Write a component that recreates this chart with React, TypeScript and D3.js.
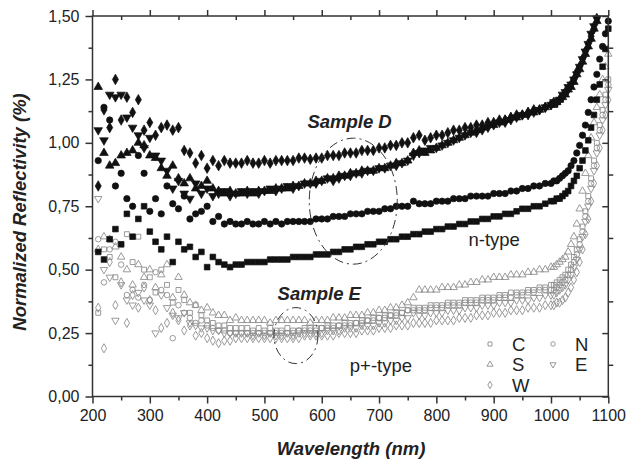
import React, { useRef, useEffect } from 'react';
import * as d3 from 'd3';

// wavelength grid (nm) shared by all series
const wavelengths = [
  210, 220, 230, 240, 250, 260, 270, 280, 290, 300,
  310, 320, 330, 340, 350, 360, 370, 380, 390, 400,
  410, 420, 430, 440, 450, 460, 470, 480, 490, 500,
  510, 520, 530, 540, 550, 560, 570, 580, 590, 600,
  610, 620, 630, 640, 650, 660, 670, 680, 690, 700,
  710, 720, 730, 740, 750, 760, 770, 780, 790, 800,
  810, 820, 830, 840, 850, 860, 870, 880, 890, 900,
  910, 920, 930, 940, 950, 960, 970, 980, 990, 1000,
  1005, 1010, 1015, 1020, 1025, 1030, 1035, 1040, 1045, 1050,
  1055, 1060, 1065, 1070, 1075, 1080, 1085, 1090, 1095, 1100,
];

// Sample D (n-type), filled markers
const nW = [
  0.83, 1.13, 1.06, 1.25, 1.09, 1.18, 1.12, 1.17, 1.05, 1.08,
  1.03, 1.06, 1.07, 1.05, 1.06, 0.97, 0.96, 0.92, 0.95, 0.90,
  0.93, 0.91, 0.93, 0.92, 0.92, 0.92, 0.93, 0.92, 0.92, 0.93,
  0.92, 0.93, 0.93, 0.93, 0.93, 0.94, 0.94, 0.935, 0.94, 0.94,
  0.95, 0.95, 0.95, 0.96, 0.96, 0.96, 0.97, 0.97, 0.97, 0.98,
  0.98, 0.99, 0.99, 1.00, 1.00, 1.02, 1.03, 1.01, 1.02, 1.03,
  1.03, 1.04, 1.05, 1.05, 1.06, 1.06, 1.07, 1.07, 1.08, 1.08,
  1.09, 1.09, 1.10, 1.11, 1.11, 1.12, 1.13, 1.13, 1.14, 1.15,
  1.16, 1.16, 1.17, 1.18, 1.20, 1.21, 1.23, 1.25, 1.28, 1.30,
  1.33, 1.36, 1.39, 1.42, 1.45, 1.49, null, null, null, null,
];
const nS = [
  1.22, 0.96, 0.91, 0.92, 0.95, 0.96, 0.97, 1.00, 0.99, 0.95,
  0.94, 0.90, 0.87, 0.91, 0.86, 0.84, 0.86, 0.82, 0.83, 0.85,
  0.82, 0.81, 0.80, 0.81, 0.80, 0.80, 0.81, 0.80, 0.81, 0.81,
  0.81, 0.82, 0.82, 0.82, 0.83, 0.83, 0.84, 0.84, 0.85, 0.85,
  0.86, 0.86, 0.87, 0.87, 0.88, 0.88, 0.89, 0.89, 0.89, 0.90,
  0.90, 0.91, 0.92, 0.92, 0.93, 0.96, 0.97, 0.96, 0.97, 0.98,
  0.99, 1.00, 1.01, 1.02, 1.03, 1.04, 1.05, 1.06, 1.07, 1.07,
  1.08, 1.09, 1.10, 1.10, 1.11, 1.12, 1.12, 1.13, 1.14, 1.15,
  1.15, 1.16, 1.17, 1.18, 1.19, 1.21, 1.22, 1.24, 1.27, 1.29,
  1.32, 1.35, 1.38, 1.41, 1.45, 1.48, null, null, null, null,
];
const nE = [
  1.05, 1.01, 1.19, 1.18, 1.19, 1.10, 1.06, 1.03, 0.98, 1.02,
  0.95, 0.93, 0.89, 0.82, 0.85, 0.80, 0.78, 0.84, 0.80, 0.82,
  0.79, 0.80, 0.81, 0.79, 0.80, 0.81, 0.80, 0.81, 0.80, 0.81,
  0.82, 0.81, 0.82, 0.83, 0.82, 0.83, 0.84, 0.84, 0.84, 0.85,
  0.86, 0.85, 0.86, 0.87, 0.87, 0.88, 0.88, 0.89, 0.89, 0.90,
  0.90, 0.91, 0.91, 0.92, 0.93, 0.95, 0.96, 0.97, 0.98, 0.98,
  0.99, 1.00, 1.01, 1.02, 1.03, 1.04, 1.04, 1.05, 1.06, 1.07,
  1.08, 1.08, 1.09, 1.10, 1.11, 1.11, 1.12, 1.13, 1.14, 1.15,
  1.16, 1.16, 1.17, 1.19, 1.20, 1.22, 1.23, 1.25, 1.27, 1.30,
  1.33, 1.36, 1.39, 1.43, 1.46, 1.49, null, null, null, null,
];
const nN = [
  0.93, 1.14, 1.09, 0.83, 0.88, 0.78, 0.75, 0.95, 0.88, 0.73,
  0.78, 0.72, 0.83, 0.76, 0.74, 0.79, 0.70, 0.72, 0.73, 0.75,
  0.69, 0.71, 0.68, 0.69, 0.68, 0.68, 0.69, 0.68, 0.68, 0.69,
  0.68, 0.69, 0.68, 0.69, 0.69, 0.69, 0.69, 0.69, 0.70, 0.70,
  0.70, 0.71, 0.71, 0.71, 0.72, 0.72, 0.72, 0.73, 0.73, 0.73,
  0.74, 0.74, 0.75, 0.75, 0.75, 0.77, 0.76, 0.76, 0.76, 0.77,
  0.77, 0.77, 0.78, 0.78, 0.78, 0.79, 0.79, 0.79, 0.79, 0.80,
  0.80, 0.80, 0.81, 0.81, 0.82, 0.82, 0.83, 0.83, 0.84, 0.84,
  0.85, 0.85, 0.86, 0.87, 0.88, 0.89, 0.91, 0.93, 0.96, 0.99,
  1.03, 1.07, 1.12, 1.17, 1.22, 1.27, 1.33, 1.38, 1.43, 1.48,
];
const nC = [
  0.57, 0.54, 0.62, 0.66, 0.60, 0.72, 0.63, 0.70, 0.75, 0.65,
  0.61, 0.58, 0.63, 0.53, 0.61, 0.58, 0.59, 0.55, 0.57, 0.51,
  0.55, 0.53, 0.52, 0.51, 0.52, 0.52, 0.53, 0.53, 0.53, 0.53,
  0.54, 0.54, 0.54, 0.54, 0.55, 0.55, 0.55, 0.55, 0.56, 0.56,
  0.56, 0.57, 0.57, 0.58, 0.58, 0.59, 0.59, 0.60, 0.60, 0.61,
  0.61, 0.62, 0.62, 0.63, 0.63, 0.64, 0.64, 0.65, 0.65, 0.66,
  0.66, 0.67, 0.67, 0.68, 0.68, 0.69, 0.69, 0.70, 0.70, 0.71,
  0.71, 0.72, 0.72, 0.73, 0.74, 0.74, 0.75, 0.75, 0.76, 0.77,
  0.77, 0.78, 0.78, 0.79, 0.80, 0.81, 0.83, 0.85, 0.87, 0.90,
  0.93, 0.97, 1.01, 1.06, 1.11, 1.17, 1.23, 1.30, 1.37, 1.45,
];

// Sample E (p+-type), open markers
const pS = [
  0.58, 0.63, 0.62, 0.59, 0.55, 0.50, 0.44, 0.52, 0.47, 0.50,
  0.43, 0.48, 0.52, 0.39, 0.47, 0.40, 0.37, 0.36, 0.34, 0.35,
  0.33, 0.32, 0.32, 0.30, 0.31, 0.30, 0.30, 0.30, 0.30, 0.30,
  0.29, 0.30, 0.30, 0.30, 0.30, 0.30, 0.30, 0.29, 0.30, 0.30,
  0.30, 0.31, 0.31, 0.31, 0.32, 0.32, 0.32, 0.33, 0.33, 0.34,
  0.34, 0.35, 0.35, 0.36, 0.37, 0.39, 0.42, 0.42, 0.42, 0.42,
  0.43, 0.43, 0.43, 0.44, 0.44, 0.45, 0.45, 0.46, 0.46, 0.47,
  0.47, 0.47, 0.48, 0.48, 0.48, 0.49, 0.49, 0.50, 0.50, 0.51,
  0.51, 0.52, 0.53, 0.54, 0.55, 0.57, 0.60, 0.63, 0.68, 0.74,
  0.81, 0.88, 0.95, 1.02, 1.08, 1.14, 1.19, 1.25, 1.30, 1.35,
];
const pC = [
  0.33, 0.58, 0.55, 0.47, 0.60, 0.64, 0.53, 0.63, 0.50, 0.47,
  0.41, 0.50, 0.44, 0.37, 0.42, 0.38, 0.33, 0.36, 0.32, 0.30,
  0.29, 0.28, 0.28, 0.27, 0.27, 0.27, 0.27, 0.26, 0.27, 0.26,
  0.27, 0.26, 0.26, 0.27, 0.26, 0.26, 0.27, 0.27, 0.27, 0.27,
  0.28, 0.28, 0.28, 0.29, 0.29, 0.29, 0.30, 0.30, 0.31, 0.31,
  0.32, 0.32, 0.33, 0.33, 0.34, 0.35, 0.35, 0.35, 0.36, 0.36,
  0.36, 0.37, 0.37, 0.37, 0.38, 0.38, 0.38, 0.39, 0.39, 0.39,
  0.40, 0.40, 0.41, 0.41, 0.41, 0.42, 0.42, 0.43, 0.43, 0.44,
  0.44, 0.45, 0.46, 0.47, 0.48, 0.50, 0.52, 0.55, 0.58, 0.62,
  0.67, 0.73, 0.79, 0.86, 0.93, 1.00, 1.07, 1.13, 1.19, 1.25,
];
const pN = [
  0.62, 0.45, 0.58, 0.61, 0.52, 0.40, 0.42, 0.39, 0.44, 0.38,
  0.49, 0.42, 0.40, 0.23, 0.36, 0.33, 0.31, 0.29, 0.30, 0.28,
  0.27, 0.26, 0.26, 0.25, 0.25, 0.25, 0.25, 0.25, 0.25, 0.25,
  0.25, 0.25, 0.25, 0.25, 0.25, 0.26, 0.26, 0.26, 0.26, 0.27,
  0.27, 0.27, 0.28, 0.28, 0.28, 0.29, 0.29, 0.30, 0.30, 0.31,
  0.31, 0.32, 0.32, 0.33, 0.34, 0.34, 0.34, 0.34, 0.35, 0.35,
  0.35, 0.36, 0.36, 0.36, 0.37, 0.37, 0.37, 0.38, 0.38, 0.38,
  0.39, 0.39, 0.39, 0.40, 0.40, 0.41, 0.41, 0.42, 0.42, 0.42,
  0.42, 0.43, 0.44, 0.45, 0.46, 0.48, 0.50, 0.53, 0.56, 0.60,
  0.65, 0.71, 0.77, 0.84, 0.91, 0.98, 1.05, 1.11, 1.17, 1.23,
];
const pE = [
  0.78, 0.50, 0.47, 0.30, 0.44, 0.38, 0.36, 0.41, 0.38, 0.36,
  0.25, 0.40, 0.35, 0.32, 0.31, 0.33, 0.29, 0.28, 0.27, 0.27,
  0.26, 0.26, 0.25, 0.25, 0.25, 0.25, 0.25, 0.24, 0.25, 0.24,
  0.25, 0.24, 0.24, 0.25, 0.24, 0.25, 0.25, 0.25, 0.25, 0.25,
  0.26, 0.26, 0.26, 0.27, 0.27, 0.27, 0.28, 0.28, 0.28, 0.29,
  0.29, 0.30, 0.30, 0.31, 0.31, 0.33, 0.32, 0.32, 0.33, 0.33,
  0.33, 0.34, 0.34, 0.34, 0.35, 0.35, 0.35, 0.36, 0.36, 0.36,
  0.37, 0.37, 0.37, 0.38, 0.38, 0.38, 0.39, 0.39, 0.40, 0.40,
  0.40, 0.41, 0.42, 0.43, 0.44, 0.46, 0.48, 0.51, 0.54, 0.58,
  0.63, 0.69, 0.75, 0.82, 0.89, 0.96, 1.03, 1.09, 1.15, 1.21,
];
const pW = [
  0.35, 0.19, 0.53, 0.36, 0.45, 0.29, 0.40, 0.35, 0.43, 0.38,
  0.34, 0.27, 0.29, 0.33, 0.30, 0.26, 0.28, 0.24, 0.25, 0.23,
  0.22, 0.21, 0.22, 0.22, 0.23, 0.23, 0.23, 0.23, 0.23, 0.23,
  0.23, 0.23, 0.23, 0.23, 0.23, 0.23, 0.24, 0.24, 0.24, 0.24,
  0.24, 0.24, 0.25, 0.25, 0.25, 0.25, 0.26, 0.26, 0.26, 0.27,
  0.27, 0.27, 0.28, 0.28, 0.28, 0.29, 0.29, 0.29, 0.29, 0.30,
  0.30, 0.30, 0.30, 0.31, 0.31, 0.31, 0.32, 0.32, 0.32, 0.33,
  0.33, 0.33, 0.34, 0.34, 0.34, 0.35, 0.35, 0.35, 0.36, 0.36,
  0.36, 0.37, 0.37, 0.38, 0.39, 0.41, 0.43, 0.46, 0.49, 0.53,
  0.58, 0.64, 0.70, 0.77, 0.84, 0.91, 0.98, 1.05, 1.11, 1.17,
];

const xTicks = [200, 300, 400, 500, 600, 700, 800, 900, 1000, 1100];
const xTickLabels = ['200', '300', '400', '500', '600', '700', '800', '900', '1000', '1100'];
const yTicks = [0, 0.25, 0.5, 0.75, 1.0, 1.25, 1.5];
const yTickLabels = ['0,00', '0,25', '0,50', '0,75', '1,00', '1,25', '1,50'];

const legendRows = [
  { label: 'C', shape: 'square', col: 0, row: 0 },
  { label: 'S', shape: 'triangle', col: 0, row: 1 },
  { label: 'W', shape: 'diamond', col: 0, row: 2 },
  { label: 'N', shape: 'circle', col: 1, row: 0 },
  { label: 'E', shape: 'invtriangle', col: 1, row: 1 },
];

const FONT = '"Liberation Sans", Arial, sans-serif';

const App = () => {
  const ref = useRef<SVGSVGElement>(null);

  useEffect(() => {
    const width = 629;
    const height = 465;
    const left = 92.5;
    const right = 608.3;
    const top = 16;
    const bottom = 396.5;

    const x = d3.scaleLinear().domain([200, 1100]).range([left, right]);
    const y = d3.scaleLinear().domain([0, 1.5]).range([bottom, top]);

    const svg = d3.select(ref.current);
    svg.selectAll('*').remove();
    svg.attr('width', width).attr('height', height);

    const symbolFor = (shape: string, size: number) => {
      const type =
        shape === 'square' ? d3.symbolSquare :
        shape === 'circle' ? d3.symbolCircle :
        shape === 'diamond' ? d3.symbolDiamond :
        d3.symbolTriangle;
      return d3.symbol(type, size)();
    };
    const rot = (shape: string) => (shape === 'invtriangle' ? ' rotate(180)' : '');

    const series = [
      { values: pC, shape: 'square', filled: false },
      { values: pN, shape: 'circle', filled: false },
      { values: pE, shape: 'invtriangle', filled: false },
      { values: pW, shape: 'diamond', filled: false },
      { values: pS, shape: 'triangle', filled: false },
      { values: nC, shape: 'square', filled: true },
      { values: nN, shape: 'circle', filled: true },
      { values: nE, shape: 'invtriangle', filled: true },
      { values: nS, shape: 'triangle', filled: true },
      { values: nW, shape: 'diamond', filled: true },
    ];

    // markers
    series.forEach((s) => {
      const pts = wavelengths
        .map((w, i) => ({ w, v: s.values[i] }))
        .filter((d) => d.v != null && d.v <= 1.5);
      svg.append('g')
        .selectAll('path')
        .data(pts)
        .enter()
        .append('path')
        .attr('d', symbolFor(s.shape, s.filled ? 32 : 24))
        .attr('transform', (d) => `translate(${x(d.w)},${y(d.v as number)})${rot(s.shape)}`)
        .attr('fill', s.filled ? '#111' : 'none')
        .attr('stroke', s.filled ? '#111' : '#8e8e8e')
        .attr('stroke-width', s.filled ? 0.7 : 0.9);
    });

    // frame
    svg.append('rect')
      .attr('x', left).attr('y', top)
      .attr('width', right - left).attr('height', bottom - top)
      .attr('fill', 'none').attr('stroke', '#333').attr('stroke-width', 1.5);

    const xMinor = [250, 350, 450, 550, 650, 750, 850, 950, 1050];
    const yMinor = [0.125, 0.375, 0.625, 0.875, 1.125, 1.375];

    const styleAxis = (g: any) => {
      g.select('.domain').remove();
      g.selectAll('line').attr('stroke', '#333').attr('stroke-width', 1.5);
      g.selectAll('text')
        .attr('fill', '#222')
        .style('font-family', FONT)
        .style('font-size', '16px');
    };

    // bottom
    svg.append('g')
      .attr('transform', `translate(0,${bottom})`)
      .call(d3.axisBottom(x).tickValues(xTicks).tickSize(7).tickPadding(6)
        .tickFormat((d, i) => xTickLabels[i]))
      .call(styleAxis);
    svg.append('g')
      .attr('transform', `translate(0,${bottom})`)
      .call(d3.axisBottom(x).tickValues(xMinor).tickSize(4).tickFormat(() => ''))
      .call(styleAxis);

    // left
    svg.append('g')
      .attr('transform', `translate(${left},0)`)
      .call(d3.axisLeft(y).tickValues(yTicks).tickSize(7).tickPadding(6)
        .tickFormat((d, i) => yTickLabels[i]))
      .call(styleAxis);
    svg.append('g')
      .attr('transform', `translate(${left},0)`)
      .call(d3.axisLeft(y).tickValues(yMinor).tickSize(4).tickFormat(() => ''))
      .call(styleAxis);

    // top (mirror)
    svg.append('g')
      .attr('transform', `translate(0,${top})`)
      .call(d3.axisTop(x).tickValues(xTicks).tickSize(6).tickFormat(() => ''))
      .call(styleAxis);
    svg.append('g')
      .attr('transform', `translate(0,${top})`)
      .call(d3.axisTop(x).tickValues(xMinor).tickSize(-4).tickFormat(() => ''))
      .call(styleAxis);

    // right (mirror)
    svg.append('g')
      .attr('transform', `translate(${right},0)`)
      .call(d3.axisRight(y).tickValues(yTicks).tickSize(-6).tickFormat(() => ''))
      .call(styleAxis);
    svg.append('g')
      .attr('transform', `translate(${right},0)`)
      .call(d3.axisRight(y).tickValues(yMinor).tickSize(5).tickFormat(() => ''))
      .call(styleAxis);

    // axis titles
    svg.append('text')
      .attr('x', 351)
      .attr('y', 455)
      .attr('text-anchor', 'middle')
      .style('font-family', FONT)
      .style('font-size', '18.5px')
      .style('font-weight', 'bold')
      .style('font-style', 'italic')
      .attr('fill', '#222')
      .text('Wavelength (nm)');

    svg.append('text')
      .attr('transform', `translate(26,212) rotate(-90)`)
      .attr('text-anchor', 'middle')
      .style('font-family', FONT)
      .style('font-size', '18.5px')
      .style('font-weight', 'bold')
      .style('font-style', 'italic')
      .attr('fill', '#222')
      .text('Normalized Reflectivity (%)');

    // dash-dot ellipses
    svg.append('ellipse')
      .attr('cx', x(655)).attr('cy', y(0.77))
      .attr('rx', 44).attr('ry', 63)
      .attr('fill', 'none').attr('stroke', '#333').attr('stroke-width', 1)
      .attr('stroke-dasharray', '9,4,2,4');
    svg.append('ellipse')
      .attr('cx', x(555)).attr('cy', y(0.24))
      .attr('rx', 22).attr('ry', 28)
      .attr('fill', 'none').attr('stroke', '#333').attr('stroke-width', 1)
      .attr('stroke-dasharray', '9,4,2,4');

    // annotations
    const note = (tx: number, ty: number, s: string, bold: boolean) =>
      svg.append('text')
        .attr('x', tx).attr('y', ty)
        .style('font-family', FONT)
        .style('font-size', '18.5px')
        .style('font-weight', bold ? 'bold' : 'normal')
        .style('font-style', bold ? 'italic' : 'normal')
        .attr('fill', '#222')
        .text(s);
    note(x(575), 128, 'Sample D', true);
    note(x(523), 300, 'Sample E', true);
    note(x(856), 246, 'n-type', false);
    note(x(649), 372, 'p+-type', false);

    // legend
    const lg = svg.append('g');
    legendRows.forEach((r) => {
      const mx = r.col === 0 ? 490 : 553;
      const my = 344 + r.row * 20.5;
      lg.append('path')
        .attr('d', symbolFor(r.shape, 16))
        .attr('transform', `translate(${mx},${my})${rot(r.shape)}`)
        .attr('fill', 'none')
        .attr('stroke', '#8e8e8e')
        .attr('stroke-width', 0.9);
      lg.append('text')
        .attr('x', mx + 22)
        .attr('y', my + 6.5)
        .style('font-family', FONT)
        .style('font-size', '18.5px')
        .attr('fill', '#222')
        .text(r.label);
    });
  }, []);

  return (
    <svg ref={ref} style={{ position: 'absolute', left: 0, top: 0, background: '#fff' }} />
  );
};

export default App;
